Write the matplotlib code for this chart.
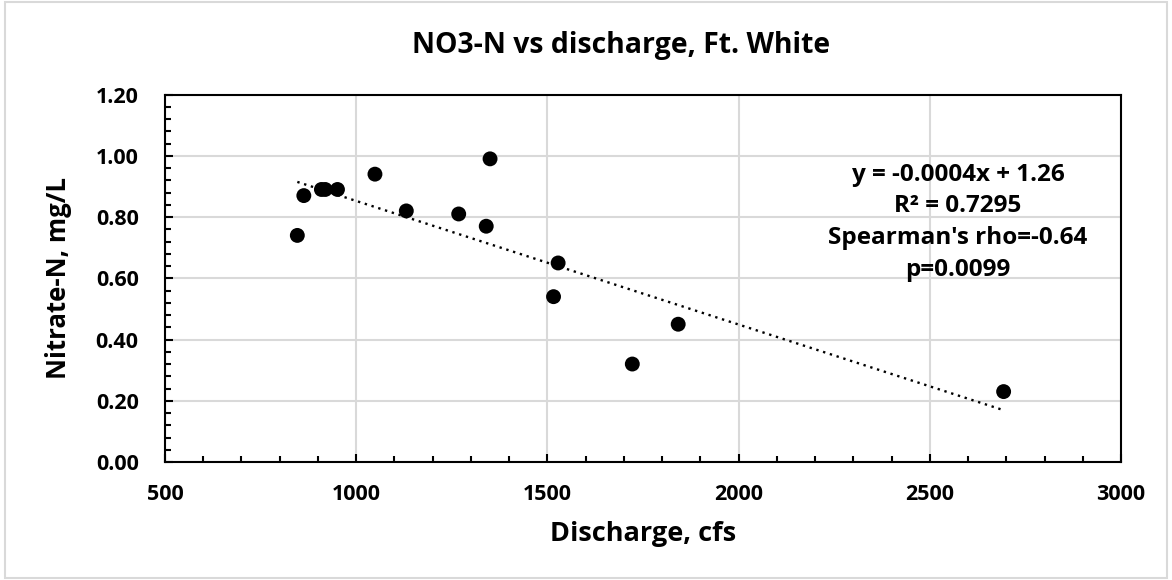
import matplotlib
matplotlib.use("Agg")
import matplotlib.pyplot as plt
import numpy as np
from matplotlib.patches import Rectangle
from matplotlib.ticker import MultipleLocator, FormatStrFormatter

# discharge (cfs) and nitrate-N (mg/L)
discharge = [846, 863, 909, 919, 951, 1049, 1131, 1268, 1340, 1350, 1516, 1528, 1722, 1842, 2693]
nitrate = [0.74, 0.87, 0.89, 0.89, 0.89, 0.94, 0.82, 0.81, 0.77, 0.99, 0.54, 0.65, 0.32, 0.45, 0.23]

fit_label = "y = -0.0004x + 1.26\nR\u00b2 = 0.7295\nSpearman's rho=-0.64\np=0.0099"

plt.rcParams["font.family"] = ["Open Sans", "DejaVu Sans"]
plt.rcParams["font.weight"] = "bold"

fig = plt.figure(figsize=(11.72, 5.8), dpi=100)
ax = fig.add_axes([0.1408, 0.2034, 0.8157, 0.6336])

grid_color = "#d9d9d9"
ax.grid(True, which="major", color=grid_color, lw=1.5, zorder=0)
ax.set_axisbelow(True)

x = np.array(discharge, dtype=float)
y = np.array(nitrate, dtype=float)
slope, intercept = np.polyfit(x, y, 1)
xs = np.array([x.min(), x.max()])
ax.plot(xs, slope * xs + intercept, color="black", lw=1.7,
        linestyle=(0, (1, 2)), zorder=2)
ax.scatter(x, y, s=115, color="black", zorder=3, edgecolors="none")

ax.set_xlim(500, 3000)
ax.set_ylim(0, 1.2)
ax.xaxis.set_major_locator(MultipleLocator(500))
ax.xaxis.set_minor_locator(MultipleLocator(100))
ax.yaxis.set_major_locator(MultipleLocator(0.2))
ax.yaxis.set_minor_locator(MultipleLocator(0.04))
ax.yaxis.set_major_formatter(FormatStrFormatter("%.2f"))

ax.tick_params(which="both", direction="in", width=1.5, top=False, right=False,
               labelsize=15.5)
ax.tick_params(which="major", length=6)
ax.tick_params(which="minor", length=4.5)
ax.tick_params(axis="x", which="major", pad=16)
ax.tick_params(axis="y", which="major", pad=19)
for spine in ax.spines.values():
    spine.set_linewidth(1.5)
    spine.set_color("black")

ax.set_xlabel("Discharge, cfs", fontsize=19.5, fontweight="bold", labelpad=11)
ax.set_ylabel("Nitrate-N, mg/L", fontsize=18.5, fontweight="bold", labelpad=17)

ax.text(2574, 0.783, fit_label, ha="center", va="center", multialignment="center",
        fontsize=17.5, fontweight="bold", linespacing=1.43)

fig.text(0.5295, 1 - 46 / 580, "NO3-N vs discharge, Ft. White", ha="center", va="center",
         fontsize=20.4, fontweight="bold")

fig.patches.append(Rectangle((0.004, 0.004), 0.992, 0.992, transform=fig.transFigure,
                             fill=False, edgecolor=grid_color, lw=1.5))

fig.savefig("out.png", dpi=100)
